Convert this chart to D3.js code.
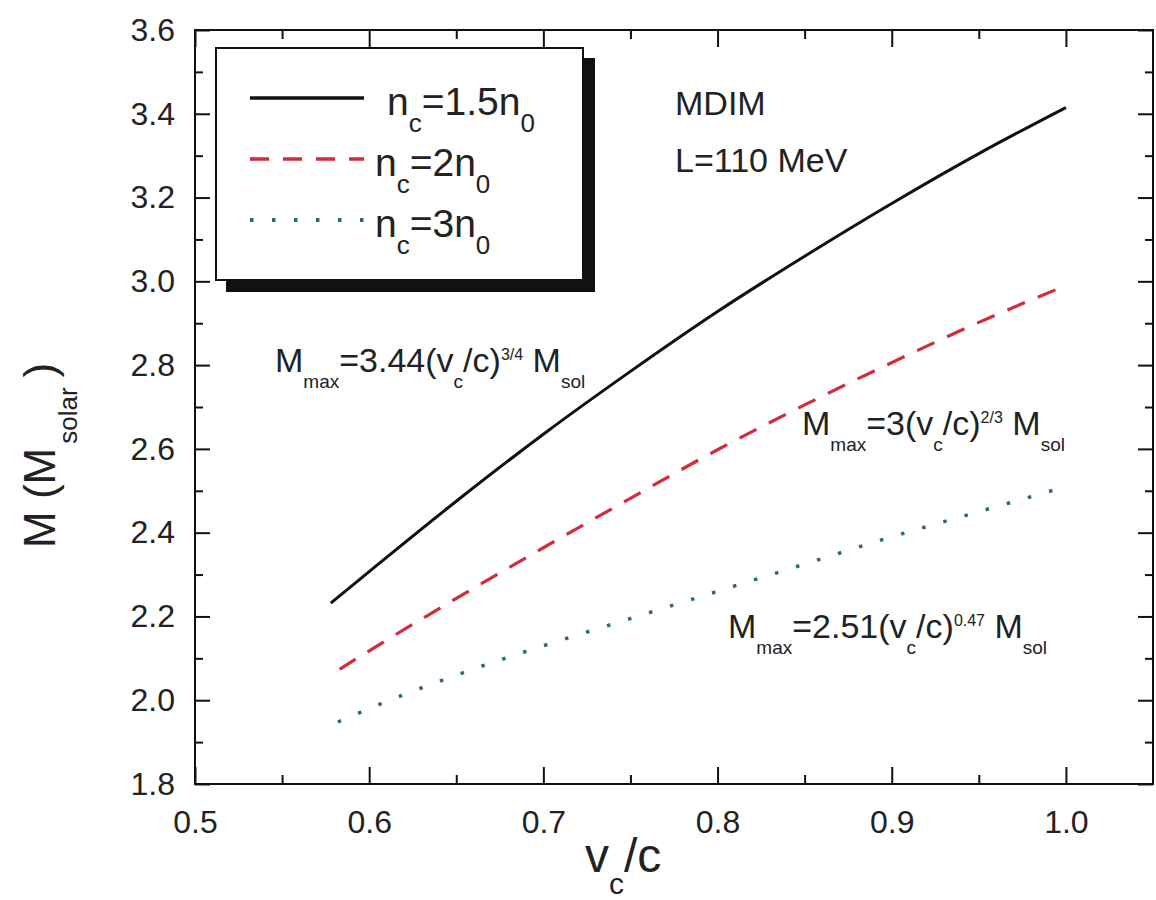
<!DOCTYPE html>
<html><head><meta charset="utf-8">
<script src="https://cdn.jsdelivr.net/npm/d3@7"></script>
<style>
body{margin:0;background:#fff}
svg{display:block}
text{font-family:"Liberation Sans",Arial,sans-serif;fill:#222}
</style>
</head><body>
<svg id="c" width="1156" height="900"></svg>
<script>
// ---- data ----
const vSolid  = [0.578, 0.60, 0.65, 0.70, 0.75, 0.80, 0.85, 0.90, 0.95, 1.00];
const mSolid  = [2.232, 2.307, 2.475, 2.635, 2.785, 2.928, 3.060, 3.186, 3.305, 3.415];
const vDashed = [0.583, 0.60, 0.65, 0.70, 0.75, 0.80, 0.85, 0.90, 0.95, 1.00];
const mDashed = [2.074, 2.118, 2.243, 2.364, 2.482, 2.598, 2.705, 2.806, 2.902, 2.990];
const vDotted = [0.582, 0.60, 0.65, 0.70, 0.75, 0.80, 0.85, 0.90, 0.95, 1.00];
const mDotted = [1.948, 1.980, 2.060, 2.130, 2.195, 2.260, 2.325, 2.390, 2.450, 2.510];
const xMajor = [0.5, 0.6, 0.7, 0.8, 0.9, 1.0];
const xMinor = [0.55, 0.65, 0.75, 0.85, 0.95];
const yMajor = [1.8, 2.0, 2.2, 2.4, 2.6, 2.8, 3.0, 3.2, 3.4, 3.6];
const yMinor = [1.9, 2.1, 2.3, 2.5, 2.7, 2.9, 3.1, 3.3, 3.5];

const svg = d3.select("#c");
const L = 195, R = 1153, T = 30, B = 784;
const x = d3.scaleLinear().domain([0.5, 1.05]).range([L, R]);
const y = d3.scaleLinear().domain([1.8, 3.6]).range([B, T]);

function styleAxis(g){
  g.select(".domain").remove();
  g.selectAll(".tick line").attr("stroke","#111").attr("stroke-width",2);
  g.selectAll(".tick text").attr("font-size",32).attr("fill","#222")
    .style("font-family",'"Liberation Sans",Arial,sans-serif');
}
const fmt = d3.format(".1f");
// bottom
svg.append("g").attr("transform",`translate(0,${B})`)
  .call(d3.axisBottom(x).tickValues(xMajor).tickSize(-17).tickPadding(26).tickFormat(fmt)).call(styleAxis);
svg.append("g").attr("transform",`translate(0,${B})`)
  .call(d3.axisBottom(x).tickValues(xMinor).tickSize(-9).tickFormat("")).call(styleAxis);
// top
svg.append("g").attr("transform",`translate(0,${T})`)
  .call(d3.axisTop(x).tickValues(xMajor).tickSize(-17).tickFormat("")).call(styleAxis);
svg.append("g").attr("transform",`translate(0,${T})`)
  .call(d3.axisTop(x).tickValues(xMinor).tickSize(-9).tickFormat("")).call(styleAxis);
// left
svg.append("g").attr("transform",`translate(${L},0)`)
  .call(d3.axisLeft(y).tickValues(yMajor).tickSize(-15).tickPadding(20).tickFormat(fmt)).call(styleAxis);
svg.append("g").attr("transform",`translate(${L},0)`)
  .call(d3.axisLeft(y).tickValues(yMinor).tickSize(-8).tickFormat("")).call(styleAxis);
// right
svg.append("g").attr("transform",`translate(${R},0)`)
  .call(d3.axisRight(y).tickValues(yMajor).tickSize(-15).tickFormat("")).call(styleAxis);
svg.append("g").attr("transform",`translate(${R},0)`)
  .call(d3.axisRight(y).tickValues(yMinor).tickSize(-8).tickFormat("")).call(styleAxis);

// frame
svg.append("rect").attr("x",L).attr("y",T).attr("width",R-L).attr("height",B-T)
  .attr("fill","none").attr("stroke","#111").attr("stroke-width",2);

// curves
const line = d3.line().x(d=>x(d[0])).y(d=>y(d[1])).curve(d3.curveMonotoneX);
const series = [
  {v:vSolid, m:mSolid, color:"#111", dash:null, w:3},
  {v:vDashed, m:mDashed, color:"#d42a3c", dash:"19,14", w:3.2},
  {v:vDotted, m:mDotted, color:"#2c705a", dash:"3.5,18.5", w:3.5}
];
series.forEach(s=>{
  svg.append("path").datum(d3.zip(s.v, s.m)).attr("d",line)
    .attr("fill","none").attr("stroke",s.color).attr("stroke-width",s.w)
    .attr("stroke-dasharray",s.dash);
});

// rich text helper
function rich(px, py, parts, opts={}){
  const t = svg.append("text").attr("x",px).attr("y",py);
  if (opts.transform) t.attr("transform",opts.transform);
  let cur = 0;
  parts.forEach(p=>{
    const off = p.off || 0;
    const ts = t.append("tspan").attr("dy", off-cur).attr("font-size",p.size).text(p.t);
    if (p.dx) ts.attr("dx", p.dx);
    cur = off;
  });
  return t;
}

// legend
svg.append("rect").attr("x",226).attr("y",58).attr("width",369).attr("height",234).attr("fill","#111");
svg.append("rect").attr("x",216).attr("y",48).attr("width",367).attr("height",232)
  .attr("fill","#fff").attr("stroke","#111").attr("stroke-width",2);
const legY = [98, 159, 220];
const legTxt = [["n","c","=1.5n","0"],["n","c","=2n","0"],["n","c","=3n","0"]];
const legX = [387, 375, 375];
series.forEach((s,i)=>{
  svg.append("line").attr("x1",250).attr("x2",364).attr("y1",legY[i]).attr("y2",legY[i])
    .attr("stroke",s.color).attr("stroke-width",s.w+0.5).attr("stroke-dasharray",s.dash);
  const p = legTxt[i];
  rich(legX[i], legY[i]+17, [
    {t:p[0], size:39}, {t:p[1], size:26, off:17}, {t:p[2], size:39}, {t:p[3], size:26, off:17}
  ]);
});

// model labels
svg.append("text").attr("x",675).attr("y",115).attr("font-size",34).text("MDIM");
svg.append("text").attr("x",675).attr("y",172).attr("font-size",34).text("L=110 MeV");

// fit annotations
function fitLabel(px, py, coef, expo){
  rich(px, py, [
    {t:"M", size:34}, {t:"max", size:19, off:16}, {t:"="+coef+"(v", size:34},
    {t:"c", size:19, off:16}, {t:"/c)", size:34}, {t:expo, size:16, off:-12},
    {t:" M", size:34}, {t:"sol", size:19, off:16}
  ]);
}
fitLabel(275, 372, "3.44", "3/4");
fitLabel(802, 435, "3", "2/3");
fitLabel(728, 638, "2.51", "0.47");

// axis titles
rich(585, 872, [{t:"v", size:48}, {t:"c", size:30, off:22}, {t:"/c", size:48}]);
rich(0, 0, [{t:"M (M", size:44}, {t:"solar", size:26, off:22, dx:4}, {t:")", size:44, dx:10}],
  {transform:"translate(55,548) rotate(-90)"});
</script>
</body></html>
